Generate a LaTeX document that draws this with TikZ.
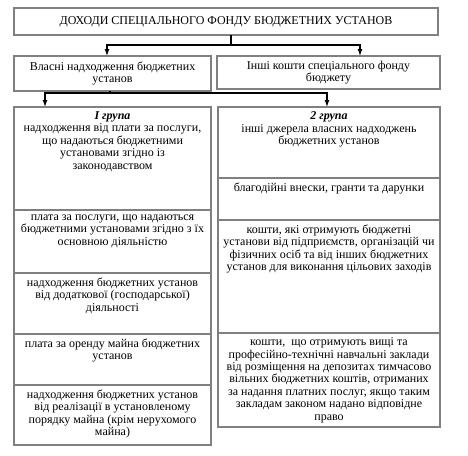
\documentclass[tikz,border=0pt]{standalone}
\usepackage{fontspec}
\setmainfont{Liberation Serif}
\usetikzlibrary{arrows.meta,positioning}

\begin{document}
\begin{tikzpicture}[x=1pt, y=-1pt, >={Latex[length=7pt,width=5pt]},
  box/.style={draw=black!50, line width=1.6pt, outer sep=0pt, inner sep=0pt, anchor=north west,
              font=\fontsize{12}{12.4}\selectfont, align=center},
  txt/.style={anchor=north, inner sep=0pt, yshift=-4.5pt, font=\fontsize{12}{12.4}\selectfont, align=center},
  link/.style={line width=1.2pt}]
  \useasboundingbox (0,0) rectangle (468,455);

  % top level
  \node[box, minimum width=424, minimum height=27] (fund) at (14,8)
        {ДОХОДИ СПЕЦІАЛЬНОГО ФОНДУ БЮДЖЕТНИХ УСТАНОВ};
  \node[box, minimum width=197, minimum height=35] (own)   at (14,56)
        {Власні надходження бюджетних\\установ};
  \node[box, minimum width=223, minimum height=33] (other) at (217,56)
        {Інші кошти спеціального фонду\\бюджету};

  % left column
  \node[box, minimum width=197, minimum height=103] (g1) at (14,107)
        [label={[txt]north:{\textbf{\textit{I група}}\\надходження від плати за послуги,\\що надаються бюджетними\\установами згідно із\\законодавством}}] {};
  \node[box, below=0pt of g1, minimum width=197, minimum height=63] (l2)
        [label={[txt]north:{плата за послуги, що надаються\\бюджетними установами згідно з їх\\основною діяльністю}}] {};
  \node[box, below=0pt of l2, minimum width=197, minimum height=61] (l3)
        [label={[txt]north:{надходження бюджетних установ\\від додаткової (господарської)\\діяльності}}] {};
  \node[box, below=0pt of l3, minimum width=197, minimum height=51] (l4)
        [label={[txt]north:{плата за оренду майна бюджетних\\установ}}] {};
  \node[box, below=0pt of l4, minimum width=197, minimum height=60] (l5)
        [label={[txt]north:{надходження бюджетних установ\\від реалізації в установленому\\порядку майна (крім нерухомого\\майна)}}] {};

  % right column
  \node[box, minimum width=222, minimum height=71] (g2) at (218,107)
        [label={[txt]north:{\textbf{\textit{2 група}}\\інші джерела власних надходжень\\бюджетних установ}}] {};
  \node[box, below=0pt of g2, minimum width=222, minimum height=42] (r2)
        [label={[txt]north:{благодійні внески, гранти та дарунки}}] {};
  \node[box, below=0pt of r2, minimum width=222, minimum height=113] (r3)
        [label={[txt]north:{кошти, які отримують бюджетні\\установи від підприємств, організацій чи\\фізичних осіб та від інших бюджетних\\установ для виконання цільових заходів}}] {};
  \node[box, below=0pt of r3, minimum width=222, minimum height=94] (r4)
        [label={[txt]north:{кошти,~ що отримують вищі та\\професійно-технічні навчальні заклади\\від розміщення на депозитах тимчасово\\вільних бюджетних коштів, отриманих\\за надання платних послуг, якщо таким\\закладам законом надано відповідне\\право}}] {};

  % connectors
  \coordinate (j1) at (231,45);
  \coordinate (a1) at (107,0);
  \coordinate (a2) at (360,0);
  \coordinate (j2) at (110,93);
  \coordinate (a3) at (45,0);
  \coordinate (a4) at (327,0);

  \draw[link]     (fund.south -| j1) -- (j1);
  \draw[link, ->] (j1) -| (own.north -| a1);
  \draw[link, ->] (j1) -| (other.north -| a2);
  \draw[link]     (own.south -| j2) -- (j2);
  \draw[link, ->] (j2) -| (g1.north -| a3);
  \draw[link, ->] (j2) -| (g2.north -| a4);
\end{tikzpicture}
\end{document}
